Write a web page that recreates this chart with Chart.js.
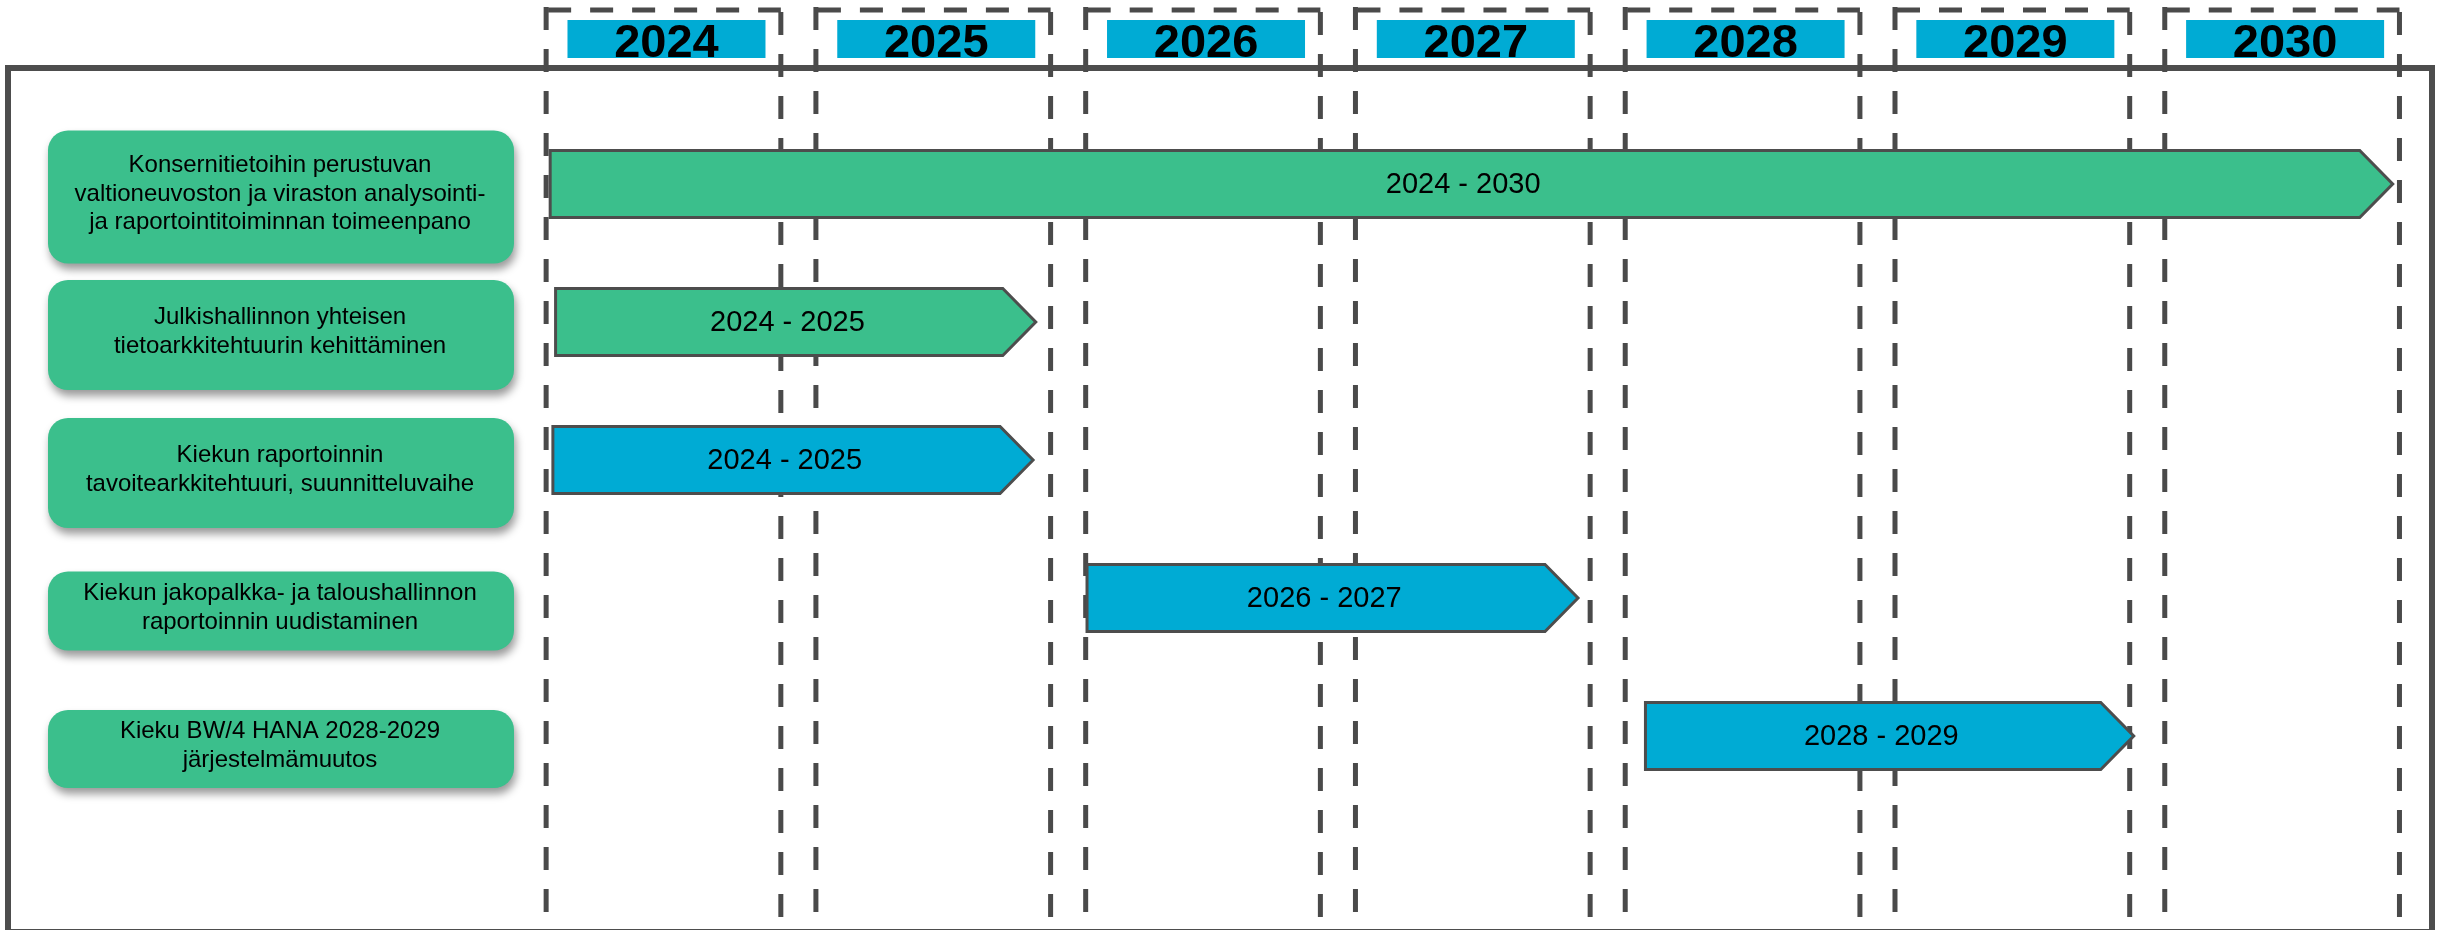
<!DOCTYPE html>
<html>
<head>
<meta charset="utf-8">
<script src="https://cdn.jsdelivr.net/npm/chart.js@4.4.1/dist/chart.umd.min.js"></script>
<style>
  html, body { margin: 0; padding: 0; background: #fff; }
  #wrap { width: 2440px; height: 930px; position: relative; }
</style>
</head>
<body>
<div id="wrap"><canvas id="roadmap"></canvas></div>
<script>
// --- data ---
const years = [2024, 2025, 2026, 2027, 2028, 2029, 2030];
const tasks = [
    ['Konsernitietoihin perustuvan', 'valtioneuvoston ja viraston analysointi-', 'ja raportointitoiminnan toimeenpano'],
    ['Julkishallinnon yhteisen', 'tietoarkkitehtuurin kehittäminen'],
    ['Kiekun raportoinnin', 'tavoitearkkitehtuuri, suunnitteluvaihe'],
    ['Kiekun jakopalkka- ja taloushallinnon', 'raportoinnin uudistaminen'],
    ['Kieku BW/4 HANA 2028-2029', 'järjestelmämuutos']
];
const taskStart = [2024.08, 2024.10, 2024.09, 2026.07, 2028.14];
const taskEnd = [2030.91, 2025.88, 2025.87, 2027.89, 2029.95];
const rangeLabels = ['2024 - 2030', '2024 - 2025', '2024 - 2025', '2026 - 2027', '2028 - 2029'];

// --- styling ---
const GREEN = '#3bbf8c';
const BLUE = '#00abd4';
const DARK = '#4d4d4d';
const FONT = '"Liberation Sans", Arial, sans-serif';
const barColors = [GREEN, GREEN, BLUE, BLUE, BLUE];
const labelBoxHeights = [133, 110, 110, 79, 78];
const TIP = 33;

function roundRect(ctx, x, y, w, h, r) {
    ctx.beginPath();
    ctx.moveTo(x + r, y);
    ctx.arcTo(x + w, y, x + w, y + h, r);
    ctx.arcTo(x + w, y + h, x, y + h, r);
    ctx.arcTo(x, y + h, x, y, r);
    ctx.arcTo(x, y, x + w, y, r);
    ctx.closePath();
}

const roadmapDecor = {
    id: 'roadmapDecor',
    beforeDatasetsDraw(chart) {
        const { ctx, scales: { x, y } } = chart;
        const H = chart.height;
        ctx.save();

        // outer frame
        ctx.strokeStyle = DARK;
        ctx.lineWidth = 6;
        ctx.strokeRect(8, 68, 2424, 864);

        // dashed year columns
        ctx.strokeStyle = '#4a4a4a';
        ctx.lineWidth = 5;
        ctx.setLineDash([23, 19]);
        years.forEach(yr => {
            const l = x.getPixelForValue(yr + 0.065);
            const r = x.getPixelForValue(yr + 0.935);
            ctx.beginPath();
            ctx.moveTo(l, 7);
            ctx.lineTo(l, H);
            ctx.stroke();
            ctx.beginPath();
            ctx.moveTo(l + 2, 10);
            ctx.lineTo(r, 10);
            ctx.stroke();
            ctx.beginPath();
            ctx.moveTo(r, 12);
            ctx.lineTo(r, H);
            ctx.stroke();
        });
        ctx.setLineDash([]);

        // year headers
        ctx.font = 'bold 47px ' + FONT;
        ctx.textAlign = 'center';
        ctx.textBaseline = 'alphabetic';
        years.forEach(yr => {
            const cx = x.getPixelForValue(yr + 0.5) + 3;
            ctx.fillStyle = BLUE;
            ctx.fillRect(cx - 99, 20, 198, 38);
            ctx.fillStyle = '#000';
            ctx.fillText(String(yr), cx, 57);
        });

        // task label boxes
        tasks.forEach((lines, i) => {
            const cy = y.getPixelForValue(i) + 13;
            const h = labelBoxHeights[i];
            ctx.save();
            ctx.shadowColor = 'rgba(0,0,0,0.4)';
            ctx.shadowBlur = 8;
            ctx.shadowOffsetX = 2;
            ctx.shadowOffsetY = 6;
            ctx.fillStyle = GREEN;
            roundRect(ctx, 48, cy - h / 2, 466, h, 20);
            ctx.fill();
            ctx.restore();

            ctx.fillStyle = '#000';
            ctx.font = '24px ' + FONT;
            ctx.textAlign = 'center';
            ctx.textBaseline = 'middle';
            const lh = 28.5;
            const y0 = cy - 3 - (lines.length - 1) * lh / 2;
            lines.forEach((t, k) => ctx.fillText(t, 280, y0 + k * lh));
        });

        ctx.restore();
    },
    afterDatasetsDraw(chart) {
        const { ctx } = chart;
        const meta = chart.getDatasetMeta(0);
        ctx.save();
        meta.data.forEach((el, i) => {
            const left = el.base, right = el.x;
            const top = el.y - el.height / 2, bottom = el.y + el.height / 2;
            ctx.beginPath();
            ctx.moveTo(left, top);
            ctx.lineTo(right - TIP, top);
            ctx.lineTo(right, el.y);
            ctx.lineTo(right - TIP, bottom);
            ctx.lineTo(left, bottom);
            ctx.closePath();
            ctx.fillStyle = barColors[i];
            ctx.fill();
            ctx.strokeStyle = DARK;
            ctx.lineWidth = 3;
            ctx.lineJoin = 'miter';
            ctx.stroke();

            ctx.fillStyle = '#000';
            ctx.font = '29px ' + FONT;
            ctx.textAlign = 'center';
            ctx.textBaseline = 'middle';
            ctx.fillText(rangeLabels[i], (left + right - TIP / 2) / 2, el.y + 1);
        });
        ctx.restore();
    }
};

new Chart(document.getElementById('roadmap'), {
    type: 'bar',
    data: {
        labels: tasks,
        datasets: [{
            data: taskStart.map((s, i) => [s, taskEnd[i]]),
            backgroundColor: 'rgba(0,0,0,0)',
            borderWidth: 0,
            barThickness: 67
        }]
    },
    options: {
        indexAxis: 'y',
        responsive: true,
        maintainAspectRatio: false,
        devicePixelRatio: 1,
        animation: false,
        layout: { padding: { left: 528.6, right: 23, top: 115, bottom: 125 } },
        scales: {
            x: { type: 'linear', min: 2024, max: 2031, display: false },
            y: { type: 'category', display: false, offset: true }
        },
        plugins: {
            legend: { display: false },
            tooltip: { enabled: false }
        }
    },
    plugins: [roadmapDecor]
});
</script>
</body>
</html>
